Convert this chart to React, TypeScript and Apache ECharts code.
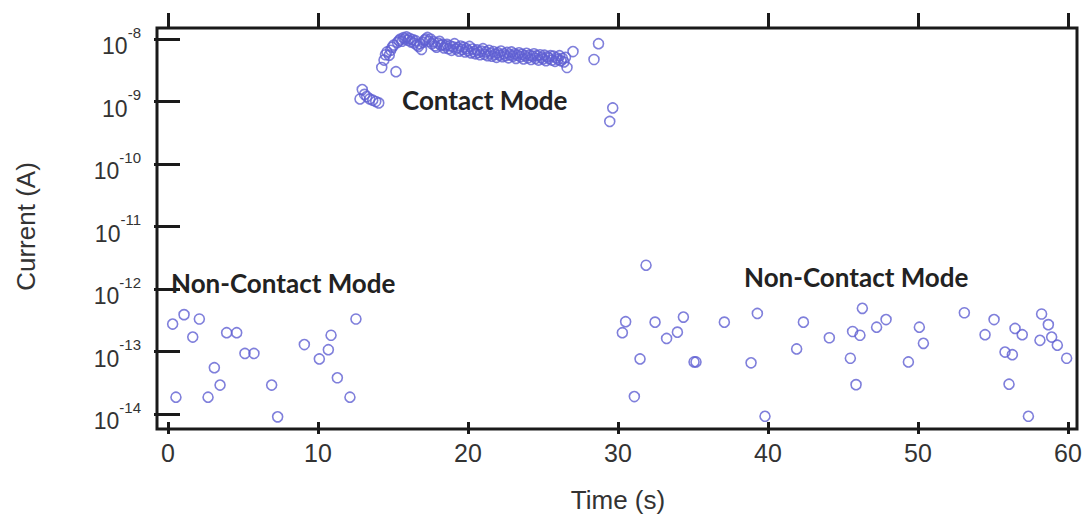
import React, { useEffect, useRef } from "react";
import * as echarts from "echarts";

// Non-contact mode, first interval (time s, current A)
const timeNC1 = [0.31, 0.53, 1.07, 1.65, 2.09, 2.67, 3.09, 3.47, 3.91, 4.58, 5.13, 5.73, 6.91, 7.31, 9.09, 10.09, 10.69, 10.87, 11.29, 12.13, 12.53];
const currentNC1 = [2.75e-13, 1.86e-14, 3.89e-13, 1.7e-13, 3.31e-13, 1.86e-14, 5.5e-14, 2.9e-14, 2.0e-13, 2.0e-13, 9.3e-14, 9.3e-14, 2.9e-14, 9.0e-15, 1.29e-13, 7.6e-14, 1.07e-13, 1.82e-13, 3.8e-14, 1.86e-14, 3.31e-13];

// Contact mode
const timeContact = [
  12.8, 12.95, 13.1, 13.25, 13.45, 13.65, 13.85, 14.05,
  14.25, 14.4, 14.5, 14.6, 14.75, 14.85, 14.95, 15.05, 15.2, 15.3, 15.4, 15.5, 15.6, 15.7, 15.8, 15.9, 16.0, 16.1, 16.2, 16.3, 16.4, 16.5, 16.6, 16.7, 16.8, 16.9, 17.0, 17.1, 17.2, 17.3, 17.4, 17.5, 17.6, 17.7, 17.8, 17.9, 18.0, 18.1, 18.2, 18.3, 18.4, 18.5,
  18.6, 18.7, 18.8, 18.9, 19.0, 19.1, 19.2, 19.3, 19.4, 19.5,
  19.6, 19.7, 19.8, 19.9, 20.0, 20.1, 20.2, 20.3, 20.4, 20.5,
  20.6, 20.7, 20.8, 20.9, 21.0, 21.1, 21.2, 21.3, 21.4, 21.5,
  21.6, 21.7, 21.8, 21.9, 22.0, 22.1, 22.2, 22.3, 22.4, 22.5,
  22.6, 22.7, 22.8, 22.9, 23.0, 23.1, 23.2, 23.3, 23.4, 23.5,
  23.6, 23.7, 23.8, 23.9, 24.0, 24.1, 24.2, 24.3, 24.4, 24.5,
  24.6, 24.7, 24.8, 24.9, 25.0, 25.1, 25.2, 25.3, 25.4, 25.5,
  25.6, 25.7, 25.8, 25.9, 26.0, 26.1, 26.2, 26.3, 26.4, 26.5,
  26.6, 27.0,
  28.4, 28.7, 29.45, 29.65,
];
const currentContact = [
  1.1e-9, 1.55e-9, 1.3e-9, 1.2e-9, 1.1e-9, 1.05e-9, 1.0e-9, 0.95e-9,
  3.5e-9, 4.6e-9, 5.6e-9, 6.2e-9, 5.5e-9, 6.6e-9, 7.4e-9, 8.0e-9, 3.0e-9, 8.8e-9, 9.4e-9, 1.0e-8, 9.2e-9, 1.05e-8, 1.0e-8, 1.08e-8, 9.6e-9, 1.02e-8, 9.0e-9, 9.8e-9, 8.6e-9, 9.4e-9, 8.0e-9, 7.6e-9, 8.4e-9, 6.8e-9, 8.9e-9, 9.6e-9, 1.0e-8, 1.06e-8, 9.2e-9, 1.0e-8, 8.4e-9, 9.0e-9, 7.8e-9, 7.4e-9, 8.6e-9, 9.2e-9, 7.9e-9, 8.2e-9, 7.2e-9, 7.8e-9,
  8.2e-9, 7.0e-9, 7.8e-9, 6.6e-9, 7.5e-9, 8.4e-9, 6.9e-9, 7.3e-9, 6.4e-9, 7.7e-9,
  6.8e-9, 7.4e-9, 6.2e-9, 7.0e-9, 6.5e-9, 7.6e-9, 6.0e-9, 6.9e-9, 6.3e-9, 5.8e-9,
  6.7e-9, 6.1e-9, 5.6e-9, 6.4e-9, 7.0e-9, 5.7e-9, 6.2e-9, 5.4e-9, 6.6e-9, 5.9e-9,
  5.3e-9, 6.3e-9, 5.7e-9, 5.1e-9, 6.0e-9, 5.5e-9, 6.4e-9, 5.2e-9, 5.8e-9, 5.4e-9,
  6.1e-9, 5.0e-9, 5.6e-9, 6.2e-9, 5.3e-9, 5.8e-9, 4.9e-9, 5.5e-9, 6.0e-9, 5.2e-9,
  5.7e-9, 4.8e-9, 5.4e-9, 5.9e-9, 5.0e-9, 5.5e-9, 4.7e-9, 5.3e-9, 5.8e-9, 4.9e-9,
  5.4e-9, 4.6e-9, 5.6e-9, 5.1e-9, 4.8e-9, 5.5e-9, 4.5e-9, 5.2e-9, 4.9e-9, 5.4e-9,
  4.6e-9, 5.3e-9, 4.4e-9, 5.0e-9, 4.7e-9, 5.4e-9, 4.5e-9, 4.9e-9, 4.3e-9, 5.1e-9,
  3.5e-9, 6.3e-9,
  4.7e-9, 8.4e-9, 4.8e-10, 7.9e-10,
];

// Non-contact mode, second interval
const timeNC2 = [30.29, 30.51, 31.09, 31.47, 31.87, 32.47, 33.24, 33.96, 34.36, 35.07, 35.2, 37.09, 38.87, 39.29, 39.8, 41.91, 42.36, 44.09, 45.49, 45.64, 45.87, 46.13, 46.29, 47.24, 47.87, 49.36, 50.09, 50.36, 53.09, 54.47, 55.07, 55.8, 56.07, 56.29, 56.47, 56.95, 57.36, 58.13, 58.24, 58.69, 58.91, 59.29, 59.91];
const currentNC2 = [2.0e-13, 3.0e-13, 1.9e-14, 7.6e-14, 2.4e-12, 2.95e-13, 1.62e-13, 2.04e-13, 3.55e-13, 6.8e-14, 6.8e-14, 2.95e-13, 6.6e-14, 4.07e-13, 9.2e-15, 1.1e-13, 2.95e-13, 1.66e-13, 7.8e-14, 2.09e-13, 2.95e-14, 1.82e-13, 4.9e-13, 2.45e-13, 3.24e-13, 6.8e-14, 2.45e-13, 1.35e-13, 4.17e-13, 1.86e-13, 3.24e-13, 9.8e-14, 3.0e-14, 8.9e-14, 2.34e-13, 1.86e-13, 9.2e-15, 1.51e-13, 3.98e-13, 2.69e-13, 1.7e-13, 1.26e-13, 7.8e-14];

const xTickMin = 0;
const xTickMax = 60;
const xTickStep = 10;
const yMin = 1e-14;
const yMax = 1e-8;

const annotations = [
  { text: "Contact Mode", x: 402, y: 100 },
  { text: "Non-Contact Mode", x: 171, y: 283 },
  { text: "Non-Contact Mode", x: 744, y: 277 },
];

const pair = (t: number[], c: number[]) => t.map((v, i) => [v, c[i]]);

const AXIS = "#1a1a1a";
const LABEL = "#333";
const MARK = "#5f5fd2";

export default function App() {
  const ref = useRef<HTMLDivElement>(null);
  useEffect(() => {
    if (!ref.current) return;
    const chart = echarts.init(ref.current, undefined, { renderer: "svg" });
    const tickStyle = { width: 3, color: AXIS };
    const richLabel = {
      b: { fontSize: 23, fontFamily: "Liberation Sans", color: LABEL, lineHeight: 23, padding: [14, 0, 0, 0] },
      s: { fontSize: 15, fontFamily: "Liberation Sans", color: LABEL, lineHeight: 15, padding: [4, 0, 18, 0] },
    };
    const seriesBase = {
      type: "scatter",
      symbol: "circle",
      symbolSize: 10,
      clip: false,
      itemStyle: { color: "rgba(0,0,0,0)", borderColor: MARK, borderWidth: 1.6 },
      emphasis: { disabled: true },
    };
    chart.setOption({
      animation: false,
      backgroundColor: "#fff",
      grid: { left: 168, right: 18, top: 39, bottom: 97, containLabel: false },
      xAxis: [
        {
          type: "value", position: "bottom", offset: 8,
          min: xTickMin, max: xTickMax, interval: xTickStep,
          axisLine: { show: false },
          axisTick: { show: true, length: 12, lineStyle: tickStyle },
          axisLabel: { fontSize: 25, fontFamily: "Liberation Sans", color: LABEL, margin: 18 },
          splitLine: { show: false },
          name: "Time (s)", nameLocation: "middle", nameGap: 65,
          nameTextStyle: { fontSize: 26, fontFamily: "Liberation Sans", color: LABEL },
        },
        {
          type: "value", position: "top", offset: 11,
          min: xTickMin, max: xTickMax, interval: xTickStep,
          axisLine: { show: false },
          axisTick: { show: true, length: 15, lineStyle: tickStyle },
          axisLabel: { show: false },
          splitLine: { show: false },
        },
      ],
      yAxis: [
        {
          type: "log", logBase: 10, position: "left", offset: 11,
          min: yMin, max: yMax,
          axisLine: { show: false },
          axisTick: { show: true, length: 14, lineStyle: tickStyle },
          axisLabel: {
            margin: 16,
            formatter: (v: number) => `{b|10}{s|${Math.round(Math.log10(v))}}`,
            rich: richLabel,
          },
          minorTick: { show: false },
          splitLine: { show: false },
          name: "Current (A)", nameLocation: "middle", nameGap: 118,
          nameTextStyle: { fontSize: 26, fontFamily: "Liberation Sans", color: LABEL },
        },
        {
          type: "log", logBase: 10, position: "right", offset: 9,
          min: yMin, max: yMax,
          axisLine: { show: false },
          axisTick: { show: true, length: 12, lineStyle: tickStyle },
          axisLabel: { show: false },
          splitLine: { show: false },
        },
      ],
      series: [
        { ...seriesBase, name: "NC1", data: pair(timeNC1, currentNC1) },
        { ...seriesBase, name: "Contact", data: pair(timeContact, currentContact) },
        { ...seriesBase, name: "NC2", data: pair(timeNC2, currentNC2) },
      ],
      graphic: [
        {
          type: "rect", silent: true, z: 10,
          shape: { x: 157, y: 28, width: 920, height: 401 },
          style: { fill: "none", stroke: AXIS, lineWidth: 3 },
        },
        ...annotations.map((a) => ({
          type: "text", x: a.x, y: a.y, z: 11,
          style: {
            text: a.text, fill: "#222", font: "bold 26px Lato",
            align: "left", verticalAlign: "middle",
          },
        })),
      ],
    });
    return () => chart.dispose();
  }, []);
  return (
    <div
      ref={ref}
      style={{ position: "fixed", left: 0, top: 0, width: 1086, height: 518, background: "#fff" }}
    />
  );
}
